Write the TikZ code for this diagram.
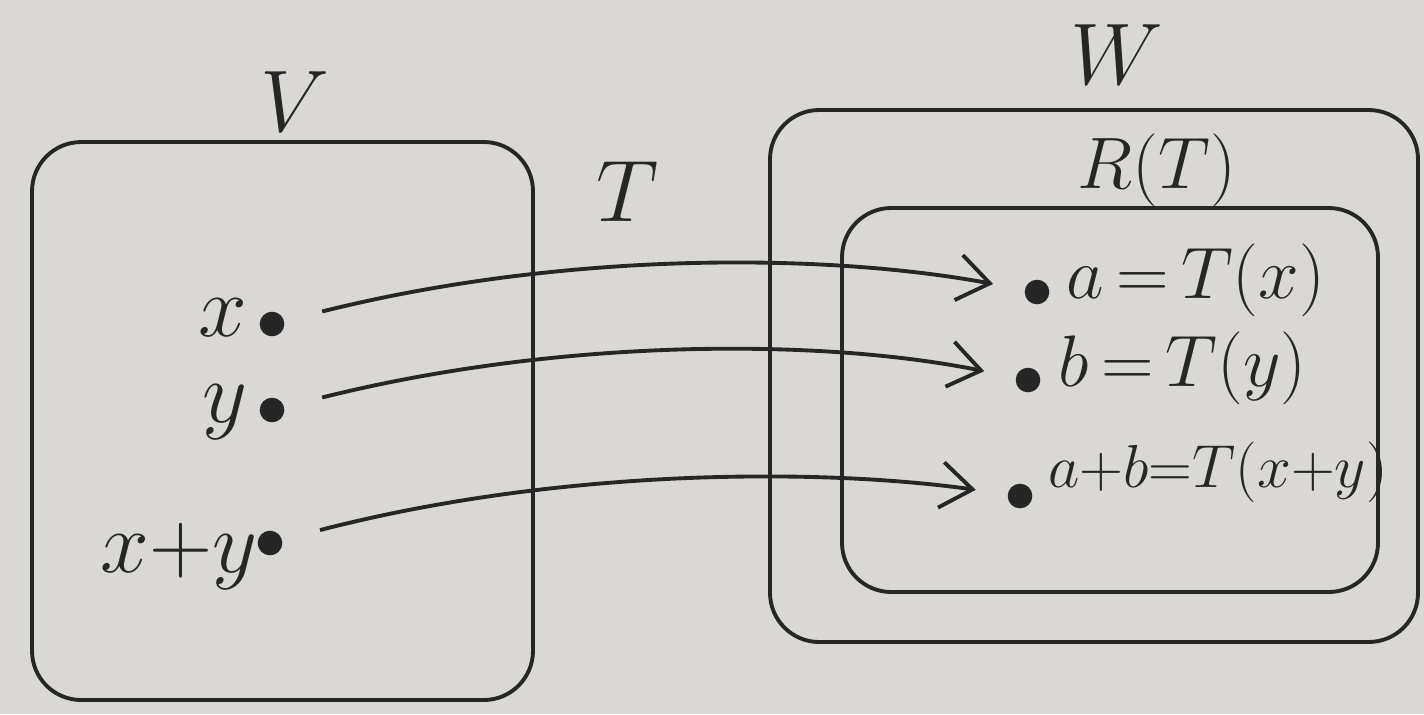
\documentclass[tikz,border=0pt]{standalone}
\usepackage{tikz}
\usepackage{amsmath,amssymb}
\usetikzlibrary{arrows.meta,positioning}
\definecolor{Board}{HTML}{DAD8D4}
\definecolor{Ink}{HTML}{262626}

\begin{document}
\begin{tikzpicture}[x=0.01cm,y=-0.01cm,
    set/.style={draw=Ink,line width=1.1pt,rounded corners=14pt},
    dot/.style={circle,fill=Ink,inner sep=0pt,minimum size=7pt},
    lbl/.style={font=\fontsize{20}{24}\selectfont,Ink,inner sep=0pt},
    big/.style={font=\fontsize{34}{38}\selectfont,Ink,inner sep=0pt},
    mapsto/.style={draw=Ink,line width=1.1pt,-{Straight Barb[length=9pt,width=13pt,line width=1.1pt]},
      shorten <=11pt,shorten >=9pt}]
  \useasboundingbox (0,0) rectangle (1424,714);
  \fill[Board] (0,0) rectangle (1424,714);
  % the two spaces and the range
  \draw[set] (32,142) rectangle (533,700);
  \draw[set] (770,110) rectangle (1418,642);
  \draw[set] (842,208) rectangle (1378,592);
  \node[big] (nV) at (295,102) {$V$};
  \node[lbl,font=\fontsize{28}{32}\selectfont] (nW) at (1117,55) {$W$};
  \node[lbl,font=\fontsize{22}{26}\selectfont] (nR) at (1157,170) {$R(T)$};
  \node[big,font=\fontsize{30}{34}\selectfont] (nT) at (628,192) {$T$};
  % points of V
  \node[dot] (px) at (272,324) {};
  \node[dot] (py) at (272,410) {};
  \node[dot] (pxy) at (270,543) {};
  \node[lbl,font=\fontsize{28}{32}\selectfont,anchor=east] (lx) at (248,318) {$x$};
  \node[lbl,font=\fontsize{28}{32}\selectfont,anchor=east] (ly) at (248,412) {$y$};
  \node[lbl,font=\fontsize{28}{32}\selectfont,anchor=east] (lxy) at (258,556) {$x{+}y$};
  % images in R(T)
  \node[dot] (qa) at (1037,292) {};
  \node[dot] (qb) at (1028,380) {};
  \node[dot] (qab) at (1020,496) {};
  \node[lbl,anchor=west] (la) at (1066,280) {$a\,{=}\,T(x)$};
  \node[lbl,anchor=west] (lb) at (1058,368) {$b\,{=}\,T(y)$};
  \node[lbl,anchor=west,font=\fontsize{17}{20}\selectfont] (lab) at (1048,472) {$a{+}b{=}T(x{+}y)$};
  % the map
  \foreach \s/\t/\c in {px/qa/252, py/qb/338, pxy/qab/468} {
    \draw[mapsto] (\s) .. controls (560,\c) and (820,\c) .. (\t);
  }
\end{tikzpicture}
\end{document}
